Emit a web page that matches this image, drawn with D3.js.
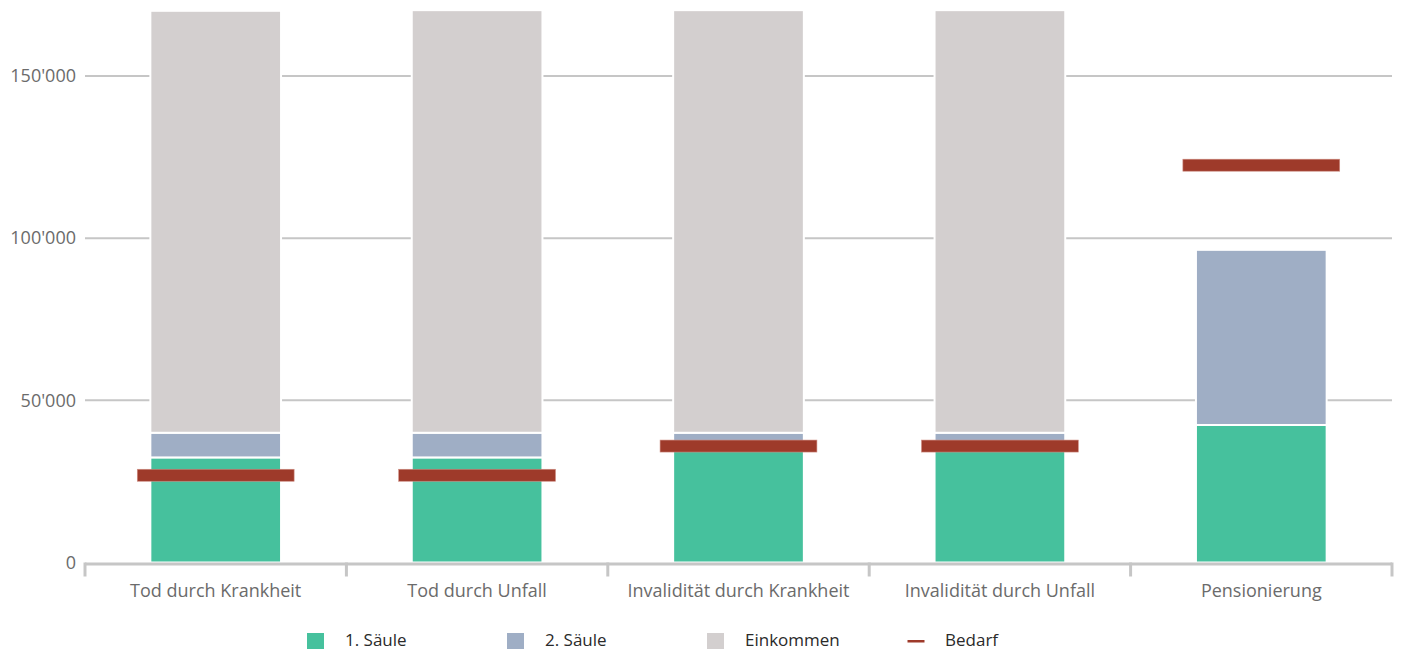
<!DOCTYPE html>
<html>
<head>
<meta charset="utf-8">
<script src="https://cdn.jsdelivr.net/npm/d3@7"></script>
<style>
  html, body { margin: 0; padding: 0; background: #fff; }
  svg { display: block; font-family: "Open Sans", "Noto Sans", sans-serif; }
</style>
</head>
<body>
<svg id="chart" width="1406" height="651"></svg>
<script>
const categories = ["Tod durch Krankheit", "Tod durch Unfall", "Invalidität durch Krankheit", "Invalidität durch Unfall", "Pensionierung"];
const saeule1 = [32400, 32400, 37000, 37000, 42400];
const saeule2 = [7600, 7600, 3000, 3000, 54000];
const einkommen = [130100, 130300, 130300, 130300, 0];
const bedarf = [26900, 26900, 35900, 35900, 122500];
const yTicks = [0, 50000, 100000, 150000];
const seriesNames = ["1. Säule", "2. Säule", "Einkommen", "Bedarf"];
const colors = ["#46c19d", "#9faec5", "#d3cfcf", "#9e3a2a"];

const svg = d3.select("#chart");
const x = d3.scaleBand().domain(categories).range([85, 1392]).padding(0);
const y = d3.scaleLinear().domain([0, 150000]).range([562.5, 76]);
const fmt = v => d3.format(",")(v).replace(/,/g, "'");

// gridlines
svg.append("g").selectAll("line").data(yTicks.filter(d => d > 0)).join("line")
  .attr("x1", 85).attr("x2", 1392)
  .attr("y1", d => y(d)).attr("y2", d => y(d))
  .attr("stroke", "#c6c6c6").attr("stroke-width", 2);

// y labels
svg.append("g").selectAll("text").data(yTicks).join("text")
  .attr("x", 76).attr("y", d => y(d)).attr("dy", "0.35em")
  .attr("text-anchor", "end").attr("fill", "#6b6b6b")
  .style("font-size", "18px")
  .text(fmt);

// stacked bars
const rows = categories.map((c, i) => ({cat: c, s1: saeule1[i], s2: saeule2[i], ek: einkommen[i]}));
const stack = d3.stack().keys(["s1", "s2", "ek"])(rows);
const bw = x.bandwidth() * 0.5;
svg.append("g").selectAll("g").data(stack).join("g")
  .attr("fill", (d, i) => colors[i])
  .selectAll("rect").data(d => d.filter(p => p[1] - p[0] > 0)).join("rect")
  .attr("x", d => x(d.data.cat) + (x.bandwidth() - bw) / 2)
  .attr("width", bw)
  .attr("y", d => y(d[1]))
  .attr("height", d => y(d[0]) - y(d[1]))
  .attr("stroke", "#fff").attr("stroke-width", 2);

// x axis
const axisG = svg.append("g");
axisG.append("line").attr("x1", 85).attr("x2", 1392)
  .attr("y1", y(0) + 1.5).attr("y2", y(0) + 1.5)
  .attr("stroke", "#c6c6c6").attr("stroke-width", 3);
const bounds = categories.map(c => x(c)).concat([x.range()[1]]);
axisG.selectAll("line.tick").data(bounds).join("line").attr("class", "tick")
  .attr("x1", d => d).attr("x2", d => d)
  .attr("y1", y(0)).attr("y2", y(0) + 14)
  .attr("stroke", "#c6c6c6").attr("stroke-width", 3);
axisG.selectAll("text").data(categories).join("text")
  .attr("x", d => x(d) + x.bandwidth() / 2).attr("y", 597)
  .attr("text-anchor", "middle").attr("fill", "#6b6b6b")
  .style("font-size", "18px")
  .text(d => d);

// Bedarf markers
const mw = x.bandwidth() * 0.6;
svg.append("g").selectAll("rect").data(bedarf.map((v, i) => ({cat: categories[i], v}))).join("rect")
  .attr("x", d => x(d.cat) + (x.bandwidth() - mw) / 2)
  .attr("width", mw)
  .attr("y", d => y(d.v) - 6)
  .attr("height", 12)
  .attr("fill", colors[3])
  .attr("stroke", "#cf8e84").attr("stroke-width", 0.6);

// legend
const lg = svg.append("g").selectAll("g").data(seriesNames).join("g")
  .attr("transform", (d, i) => `translate(${307 + i * 200},633)`);
lg.filter((d, i) => i < 3).append("rect")
  .attr("width", 17).attr("height", 16)
  .attr("fill", (d, i) => colors[i]);
lg.filter((d, i) => i === 3).append("rect")
  .attr("x", 0.5).attr("y", 7).attr("width", 17).attr("height", 2.5)
  .attr("fill", colors[3]);
lg.append("text").attr("x", 38).attr("y", 13)
  .attr("fill", "#2a2a2a").style("font-size", "17px")
  .text(d => d);
</script>
</body>
</html>
